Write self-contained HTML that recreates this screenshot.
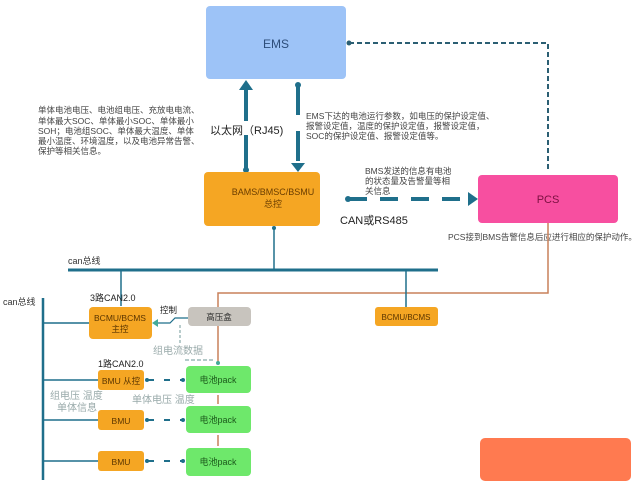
<!DOCTYPE html>
<html><head><meta charset="utf-8"><style>
body{margin:0;width:640px;height:484px;background:#fff;overflow:hidden;font-family:"Liberation Sans","Noto Sans CJK SC",sans-serif}
svg text{font-family:"Liberation Sans","Noto Sans CJK SC",sans-serif}
</style></head><body>
<svg width="640" height="484" viewBox="0 0 640 484">
<defs>
<marker id="ah" markerWidth="4" markerHeight="4" refX="2" refY="2" orient="auto" markerUnits="strokeWidth"><path d="M0,0 L4,2 L0,4 z" fill="#1f6f8b"/></marker>
</defs>
<!-- EMS -->
<rect x="206" y="6" width="140" height="73" rx="4" fill="#9dc3f7"/>
<text x="276" y="48" font-size="12" fill="#2d4d7a" text-anchor="middle">EMS</text>
<!-- EMS->PCS dashed -->
<path d="M349,43 H548 V172" fill="none" stroke="#2b5f73" stroke-width="2" stroke-dasharray="5,3"/>
<circle cx="349" cy="43" r="2.5" fill="#2b5f73"/>
<!-- up arrow -->
<line x1="246" y1="170" x2="246" y2="88" stroke="#1f6f8b" stroke-width="4" stroke-dasharray="35,14"/>
<path d="M239,90 L246,80 L253,90 z" fill="#1f6f8b"/>
<circle cx="246" cy="170" r="3" fill="#1f6f8b"/>
<!-- down arrow -->
<line x1="298" y1="85" x2="298" y2="164" stroke="#1f6f8b" stroke-width="4" stroke-dasharray="30,16"/>
<path d="M291,163 L298,172 L305,163 z" fill="#1f6f8b"/>
<circle cx="298" cy="85" r="3" fill="#1f6f8b"/>
<text x="210" y="134" font-size="11" fill="#222">以太网（RJ45)</text>
<g font-size="8.5" fill="#444">
<text x="38" y="113">单体电池电压、电池组电压、充放电电流、</text>
<text x="38" y="124">单体最大SOC、单体最小SOC、单体最小</text>
<text x="38" y="134">SOH；电池组SOC、单体最大温度、单体</text>
<text x="38" y="144">最小温度、环境温度，以及电池异常告警、</text>
<text x="38" y="154">保护等相关信息。</text>
<text x="306" y="119">EMS下达的电池运行参数，如电压的保护设定值、</text>
<text x="306" y="129">报警设定值，温度的保护设定值，报警设定值，</text>
<text x="306" y="139">SOC的保护设定值、报警设定值等。</text>
<text x="365" y="174">BMS发送的信息有电池</text>
<text x="365" y="184">的状态量及告警量等相</text>
<text x="365" y="194">关信息</text>
<text x="448" y="240">PCS接到BMS告警信息后应进行相应的保护动作。</text>
</g>
<!-- BAMS -->
<rect x="204" y="172" width="116" height="54" rx="4" fill="#f5a623"/>
<text x="273" y="195" font-size="9" fill="#6a3d00" text-anchor="middle">BAMS/BMSC/BSMU</text>
<text x="273" y="207" font-size="9" fill="#6a3d00" text-anchor="middle">总控</text>
<!-- PCS -->
<rect x="478" y="175" width="140" height="48" rx="4" fill="#f74fa0"/>
<text x="548" y="203" font-size="11" fill="#7a1040" text-anchor="middle">PCS</text>
<!-- BAMS->PCS dashed -->
<line x1="349" y1="199" x2="470" y2="199" stroke="#1f6f8b" stroke-width="4" stroke-dasharray="18,13"/>
<path d="M468,192 L478,199 L468,206 z" fill="#1f6f8b"/>
<circle cx="348" cy="199" r="3" fill="#1f6f8b"/>
<text x="340" y="224" font-size="11" fill="#222">CAN或RS485</text>
<!-- PCS orange line -->
<path d="M548,223 V293 H218 V363" fill="none" stroke="#c9805a" stroke-width="1.5"/>
<circle cx="218" cy="363" r="2" fill="#4a9"/>
<!-- can bus top -->
<line x1="68" y1="270" x2="438" y2="270" stroke="#1f6f8b" stroke-width="3"/>
<line x1="274" y1="228" x2="274" y2="270" stroke="#1f6f8b" stroke-width="1.5"/>
<circle cx="274" cy="228" r="2" fill="#1f6f8b"/>
<text x="68" y="264" font-size="9" fill="#333">can总线</text>
<line x1="121" y1="270" x2="121" y2="306" stroke="#1f6f8b" stroke-width="1.5"/>
<line x1="406" y1="270" x2="406" y2="307" stroke="#1f6f8b" stroke-width="1.5"/>
<rect x="375" y="307" width="63" height="19" rx="3" fill="#f5a623"/>
<text x="406" y="320" font-size="8" fill="#5a3500" text-anchor="middle">BCMU/BCMS</text>
<!-- left can bus -->
<text x="3" y="305" font-size="9" fill="#333">can总线</text>
<line x1="43" y1="298" x2="43" y2="480" stroke="#1f6f8b" stroke-width="2.5"/>
<g stroke="#1f6f8b" stroke-width="1.5">
<line x1="43" y1="323" x2="89" y2="323"/>
<line x1="43" y1="380" x2="98" y2="380"/>
<line x1="43" y1="420" x2="98" y2="420"/>
<line x1="43" y1="461" x2="98" y2="461"/>
</g>
<text x="90" y="301" font-size="9" fill="#222">3路CAN2.0</text>
<rect x="89" y="307" width="63" height="32" rx="4" fill="#f5a623"/>
<text x="120" y="321" font-size="8.5" fill="#5a3500" text-anchor="middle">BCMU/BCMS</text>
<text x="120" y="332" font-size="8.5" fill="#5a3500" text-anchor="middle">主控</text>
<text x="160" y="313" font-size="8.5" fill="#222">控制</text>
<path d="M188,318 H175 L170,323 H155" fill="none" stroke="#1f6f8b" stroke-width="1.2"/>
<path d="M158,319 L152,323 L158,327 z" fill="#4a9"/>
<path d="M180,325 V343" stroke="#8aa" stroke-width="1.2" stroke-dasharray="3,2"/>
<rect x="188" y="307" width="63" height="19" rx="4" fill="#c8c4be"/>
<text x="219" y="320" font-size="8.5" fill="#333" text-anchor="middle">高压盒</text>
<text x="153" y="354" font-size="10" fill="#9aa">组电流数据</text>
<path d="M185,360 H215" stroke="#8aa" stroke-width="1.2" stroke-dasharray="4,2"/>
<text x="98" y="367" font-size="9" fill="#222">1路CAN2.0</text>
<g fill="#f5a623">
<rect x="98" y="370" width="46" height="20" rx="3"/>
<rect x="98" y="410" width="46" height="20" rx="3"/>
<rect x="98" y="451" width="46" height="20" rx="3"/>
</g>
<g font-size="8.5" fill="#5a3500" text-anchor="middle">
<text x="121" y="384">BMU 从控</text>
<text x="121" y="424">BMU</text>
<text x="121" y="465">BMU</text>
</g>
<text x="50" y="399" font-size="10" fill="#9aa">组电压 温度</text>
<text x="57" y="411" font-size="10" fill="#9aa">单体信息</text>
<text x="132" y="403" font-size="10" fill="#9aa">单体电压 温度</text>
<g fill="#6ee86b">
<rect x="186" y="366" width="65" height="27" rx="4"/>
<rect x="186" y="406" width="65" height="27" rx="4"/>
<rect x="186" y="448" width="65" height="28" rx="4"/>
</g>
<g font-size="9" fill="#1c5a1c" text-anchor="middle">
<text x="218" y="383">电池pack</text>
<text x="218" y="423">电池pack</text>
<text x="218" y="465">电池pack</text>
</g>
<g stroke="#1f6f8b" stroke-width="2" stroke-dasharray="6,10">
<line x1="148" y1="380" x2="184" y2="380"/>
<line x1="148" y1="420" x2="184" y2="420"/>
<line x1="148" y1="461" x2="184" y2="461"/>
</g>
<g fill="#1f6f8b"><circle cx="147" cy="380" r="2"/><circle cx="183" cy="380" r="2"/><circle cx="147" cy="420" r="2"/><circle cx="183" cy="420" r="2"/><circle cx="147" cy="461" r="2"/><circle cx="183" cy="461" r="2"/></g>
<g stroke="#c9805a" stroke-width="1.5"><line x1="218" y1="395" x2="218" y2="404"/><line x1="218" y1="435" x2="218" y2="446"/></g>
<rect x="480" y="438" width="151" height="43" rx="5" fill="#ff7a50"/>
</svg>
</body></html>
